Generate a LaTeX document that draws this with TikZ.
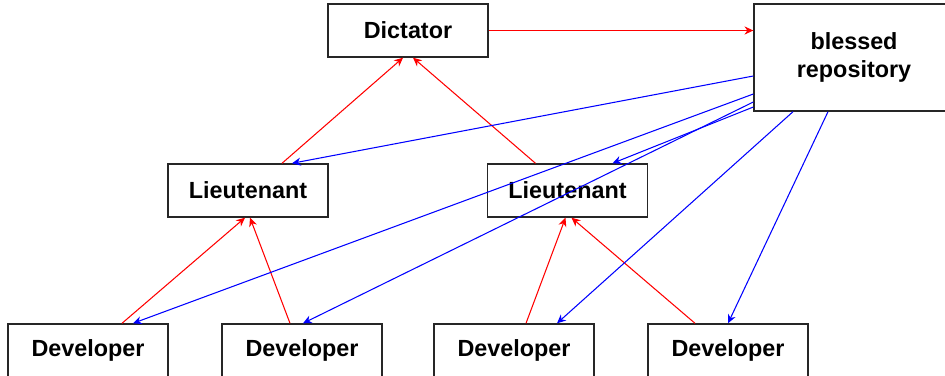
\documentclass[tikz,border=0pt]{standalone}
\usepackage{fontspec}
\setmainfont{Liberation Sans}
\usepackage{tikz}
\usetikzlibrary{arrows.meta, positioning, calc}

\begin{document}
\begin{tikzpicture}[x=0.02cm, y=-0.02cm,
      box/.style={rectangle, draw=black!85, line width=0.8pt, fill=white, minimum width=3.2cm, minimum height=1.06cm, font=\fontsize{13.3}{16}\selectfont\bfseries},
      push/.style={red, line width=0.6pt, -{Stealth[length=5pt, width=4.6pt, inset=1.6pt]}},
      pull/.style={blue, line width=0.6pt, -{Stealth[length=5pt, width=4.6pt, inset=1.6pt]}}]

      \useasboundingbox (0,0) rectangle (945,375);

      \node[box] (dictator) at (408,30.5) {Dictator};
      \node[box, minimum width=4cm, minimum height=2.14cm, align=center] (blessed) at (854,57.5) {blessed\\repository};
      \node[box] (ltA) at (248,190.5) {Lieutenant};
      \node[box] (ltB) at (567.5,190.5) {Lieutenant};
      \node[box] (devA) at (88,350.5) {Developer};
      \node[box] (devB) at (302,350.5) {Developer};
      \node[box] (devC) at (514,350.5) {Developer};
      \node[box] (devD) at (728,350.5) {Developer};

      % Dictator pushes to blessed repository
      \draw[push] (dictator.east) -- (blessed.west |- dictator.east);

      % Lieutenants to dictator
      \draw[push] ($(ltA.north)+(34,0)$) -- ($(dictator.south)+(-5,0)$);
      \draw[push] ($(ltB.north)+(-32,0)$) -- ($(dictator.south)+(5,0)$);

      % Developers to lieutenants
      \draw[push] ($(devA.north)+(34,0)$) -- ($(ltA.south)+(-3,0)$);
      \draw[push] ($(devB.north)+(-12,0)$) -- ($(ltA.south)+(2,0)$);
      \draw[push] ($(devC.north)+(12,0)$) -- ($(ltB.south)+(-2,0)$);
      \draw[push] ($(devD.north)+(-33,0)$) -- ($(ltB.south)+(4,0)$);

      % Everyone pulls from blessed repository
      \draw[pull] ($(blessed.west)+(0,18.5)$) -- ($(ltA.north)+(44,0)$);
      \draw[pull] ($(blessed.west)+(0,49.5)$) -- ($(ltB.north)+(45,0)$);
      \draw[pull] ($(blessed.west)+(0,36.5)$) -- ($(devA.north)+(45,0)$);
      \draw[pull] ($(blessed.west)+(0,44.5)$) -- ($(devB.north)+(1,0)$);
      \draw[pull] ($(blessed.south)+(-61,0)$) -- ($(devC.north)+(43,0)$);
      \draw[pull] ($(blessed.south)+(-26,0)$) -- ($(devD.north)+(0,0)$);
\end{tikzpicture}
\end{document}
